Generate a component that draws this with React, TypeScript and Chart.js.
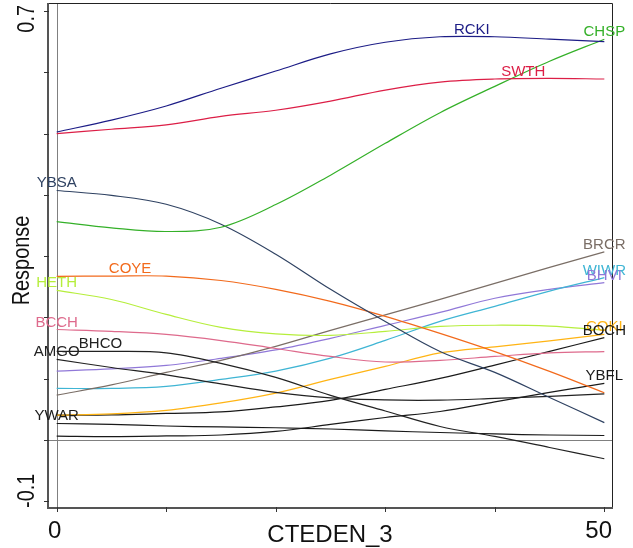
import { useEffect, useRef } from 'react';
import { Chart, registerables } from 'chart.js';

Chart.register(...registerables);

// Predictor values along the x axis
const xs = [0, 5, 10, 15, 20, 25, 30, 35, 40, 45, 50];

// Fitted response curves, one per species
const rcki = [0.5025, 0.522, 0.545, 0.574, 0.602, 0.63, 0.649, 0.658, 0.658, 0.654, 0.65];
const swth = [0.4998, 0.507, 0.514, 0.528, 0.538, 0.553, 0.571, 0.584, 0.589, 0.59, 0.589];
const chsp = [0.356, 0.346, 0.34, 0.347, 0.384, 0.432, 0.484, 0.534, 0.577, 0.618, 0.654];
const ybsa = [0.407, 0.399, 0.3845, 0.352, 0.303, 0.2456, 0.193, 0.144, 0.11, 0.069, 0.028];
const coye = [0.2668, 0.2673, 0.2673, 0.26, 0.2456, 0.226, 0.2015, 0.1737, 0.144, 0.1116, 0.0768];
const heth = [0.244, 0.229, 0.2047, 0.1835, 0.173, 0.1704, 0.177, 0.185, 0.187, 0.1856, 0.179];
const bcch = [0.18, 0.177, 0.172, 0.162, 0.149, 0.136, 0.127, 0.1296, 0.136, 0.142, 0.144];
const bhco = [0.1443, 0.1443, 0.1418, 0.1247, 0.1018, 0.0724, 0.047, 0.0217, 0.0054, -0.0126, -0.031];
const amgo = [0.1312, 0.118, 0.1059, 0.0912, 0.0773, 0.0683, 0.065, 0.0647, 0.0675, 0.0708, 0.0748];
const brcr = [0.0729, 0.0895, 0.11, 0.1296, 0.1525, 0.1786, 0.2039, 0.2292, 0.2554, 0.2815, 0.3068];
const wiwr = [0.0838, 0.0838, 0.0871, 0.0985, 0.1122, 0.1333, 0.1622, 0.1933, 0.2178, 0.2428, 0.2647];
const bhvi = [0.112, 0.1157, 0.1214, 0.1328, 0.1467, 0.1655, 0.1868, 0.208, 0.231, 0.2456, 0.2565];
const coki = [0.0402, 0.0422, 0.0479, 0.0601, 0.0761, 0.0985, 0.1198, 0.1418, 0.1518, 0.1614, 0.172];
const boch = [0.0402, 0.0405, 0.043, 0.0454, 0.0536, 0.0642, 0.0822, 0.1002, 0.1219, 0.1443, 0.1667];
const ybfl = [0.0059, 0.0051, 0.0062, 0.0078, 0.0136, 0.025, 0.0364, 0.0462, 0.0618, 0.0773, 0.092];
const ywar = [0.0266, 0.025, 0.0225, 0.0209, 0.0196, 0.0176, 0.0144, 0.0119, 0.0095, 0.0078, 0.007];

const species = ['RCKI', 'SWTH', 'CHSP', 'YBSA', 'COYE', 'HETH', 'BCCH', 'BHCO', 'AMGO', 'BRCR', 'WIWR', 'BHVI', 'COKI', 'BOCH', 'YBFL', 'YWAR'];
const series = [rcki, swth, chsp, ybsa, coye, heth, bcch, bhco, amgo, brcr, wiwr, bhvi, coki, boch, ybfl, ywar];
const colors = ['#1c1c86', '#dc1e46', '#34b028', '#2f4262', '#f26a1c', '#b6ee3c', '#de6a8c', '#222222', '#222222', '#7a6e66', '#3fb5d4', '#9078d8', '#ffb414', '#1a1a1a', '#1a1a1a', '#1a1a1a'];
// x position (predictor units) where each species name is written: the peak of its curve
const labelAt = [37.9, 42.6, 50, 0, 6.7, 0, 0, 4, 0, 50, 50, 50, 50, 50, 50, 0];

// Axis ticks and the few that carry text
const yTicks = [-0.1, 0, 0.1, 0.2, 0.3, 0.4, 0.5, 0.6, 0.7];
const yTickText = ['-0.1', '', '', '', '', '', '', '', '0.7'];
const xTicks = [0, 10, 20, 30, 40, 50];
const xTickText = ['0', '', '', '', '', '50'];
const xTitle = 'CTEDEN_3';
const yTitle = 'Response';

const FONT = '"Liberation Sans", Arial, sans-serif';
const SQUEEZE = 0.83; // rotated axis text is set narrower than the horizontal text

function valueAt(vals: number[], x: number): number {
  if (x <= xs[0]) return vals[0];
  for (let i = 1; i < xs.length; i++) {
    if (x <= xs[i]) {
      const t = (x - xs[i - 1]) / (xs[i] - xs[i - 1]);
      return vals[i - 1] + t * (vals[i] - vals[i - 1]);
    }
  }
  return vals[vals.length - 1];
}

function rotatedText(ctx: CanvasRenderingContext2D, text: string, cx: number, cy: number, align: CanvasTextAlign) {
  ctx.save();
  ctx.translate(cx, cy);
  ctx.rotate(-Math.PI / 2);
  ctx.scale(SQUEEZE, 1);
  ctx.textAlign = align;
  ctx.textBaseline = 'middle';
  ctx.fillText(text, 0, 0);
  ctx.restore();
}

const guides = {
  id: 'guides',
  beforeDatasetsDraw(chart: any) {
    const { ctx, chartArea: a, scales } = chart;
    const x = scales.x, y = scales.y;
    ctx.save();
    ctx.strokeStyle = '#808080';
    ctx.lineWidth = 1;
    const y0 = Math.round(y.getPixelForValue(0)) + 0.5;
    ctx.beginPath();
    ctx.moveTo(a.left, y0);
    ctx.lineTo(a.right, y0);
    ctx.stroke();
    const x0 = Math.round(x.getPixelForValue(0)) + 0.5;
    ctx.beginPath();
    ctx.moveTo(x0, a.top);
    ctx.lineTo(x0, a.bottom);
    ctx.stroke();
    ctx.restore();
  },
  afterDatasetsDraw(chart: any) {
    const { ctx, chartArea: a, scales } = chart;
    const x = scales.x, y = scales.y;
    ctx.save();

    // frame and axes
    ctx.strokeStyle = '#222222';
    ctx.lineWidth = 1;
    ctx.beginPath();
    ctx.moveTo(a.left, a.top + 0.5);
    ctx.lineTo(a.right + 0.5, a.top + 0.5);
    ctx.lineTo(a.right + 0.5, a.bottom);
    ctx.stroke();
    ctx.strokeStyle = '#555555';
    ctx.lineWidth = 2;
    ctx.beginPath();
    ctx.moveTo(a.left, a.top);
    ctx.lineTo(a.left, a.bottom);
    ctx.lineTo(a.right + 1, a.bottom);
    ctx.stroke();

    // ticks
    ctx.strokeStyle = '#333333';
    ctx.lineWidth = 1;
    yTicks.forEach((v) => {
      const py = Math.round(y.getPixelForValue(v)) + 0.5;
      ctx.beginPath();
      ctx.moveTo(a.left - 4, py);
      ctx.lineTo(a.left + 1, py);
      ctx.stroke();
    });
    xTicks.forEach((v) => {
      const px = Math.round(x.getPixelForValue(v)) + 0.5;
      ctx.beginPath();
      ctx.moveTo(px, a.bottom - 1);
      ctx.lineTo(px, a.bottom + 4);
      ctx.stroke();
    });

    // tick labels, kept within the plot's extent at both ends
    ctx.fillStyle = '#111111';
    ctx.font = `24px ${FONT}`;
    ctx.textBaseline = 'alphabetic';
    xTicks.forEach((v, i) => {
      if (!xTickText[i]) return;
      const px = x.getPixelForValue(v);
      const last = i === xTicks.length - 1;
      ctx.textAlign = last ? 'right' : 'left';
      ctx.fillText(xTickText[i], last ? a.right : Math.min(px, a.left), a.bottom + 30);
    });
    yTicks.forEach((v, i) => {
      if (!yTickText[i]) return;
      const top = v === yTicks[yTicks.length - 1];
      rotatedText(ctx, yTickText[i], 27, top ? a.top + 2 : a.bottom, top ? 'right' : 'left');
    });

    // axis titles
    ctx.textAlign = 'center';
    ctx.fillText(xTitle, (a.left + a.right) / 2, a.bottom + 34);
    rotatedText(ctx, yTitle, 22, (a.top + a.bottom) / 2 + 5, 'center');

    // species names above their peaks
    ctx.font = `15px ${FONT}`;
    ctx.textBaseline = 'alphabetic';
    ctx.textAlign = 'center';
    species.forEach((name, i) => {
      const px = x.getPixelForValue(labelAt[i]);
      const py = y.getPixelForValue(valueAt(series[i], labelAt[i]));
      ctx.fillStyle = colors[i];
      ctx.fillText(name, px, py - 3);
    });
    ctx.restore();
  },
};

export default function App() {
  const ref = useRef<HTMLCanvasElement | null>(null);

  useEffect(() => {
    const prevMargin = document.body.style.margin;
    document.body.style.margin = '0';
    const canvas = ref.current;
    if (!canvas) return;
    const chart = new Chart(canvas, {
      type: 'line',
      data: {
        datasets: species.map((name, i) => ({
          label: name,
          data: xs.map((xv, j) => ({ x: xv, y: series[i][j] })),
          borderColor: colors[i],
          backgroundColor: colors[i],
          borderWidth: 1.2,
          pointRadius: 0,
          fill: false,
          tension: 0.35,
        })),
      },
      options: {
        animation: false,
        responsive: false,
        devicePixelRatio: 1,
        layout: { padding: { left: 48, top: 3, right: 21, bottom: 40 } },
        plugins: { legend: { display: false }, tooltip: { enabled: false } },
        scales: {
          x: { type: 'linear', min: -0.794, max: 50.7, display: false },
          y: { type: 'linear', min: -0.1114, max: 0.7131, display: false },
        },
      },
      plugins: [guides],
    });
    return () => {
      chart.destroy();
      document.body.style.margin = prevMargin;
    };
  }, []);

  return (
    <div style={{ position: 'absolute', left: 0, top: 0, width: 633, height: 548, background: '#fff' }}>
      <canvas ref={ref} width={633} height={548} style={{ width: 633, height: 548 }} />
    </div>
  );
}
